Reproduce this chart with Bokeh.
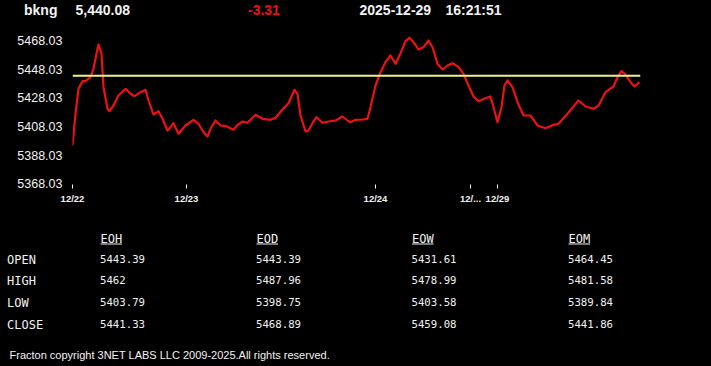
from bokeh.plotting import figure
from bokeh.layouts import column
from bokeh.models import Range1d, FixedTicker, Span
from bokeh.embed import file_html
from bokeh.resources import INLINE
from bokeh.core.properties import value

# ---------------- data ----------------
ticker = "bkng"
last_price = "5,440.08"
change = "-3.31"
date_str = "2025-12-29"
time_str = "16:21:51"

bar_index = [0, 3, 6, 10, 13, 18, 21, 25, 26, 29, 31, 35, 37, 41, 46, 53, 58, 62, 68, 73,
             76, 81, 86, 90, 95, 98, 101, 106, 113, 121, 126, 131, 135, 138, 143, 148, 154, 161, 165, 170,
             175, 183, 190, 198, 203, 210, 216, 222, 225, 228, 233, 236, 240, 244, 250, 256, 263, 270, 275, 278,
             283, 290, 295, 298, 303, 308, 313, 318, 323, 328, 333, 337, 341, 346, 351, 356, 360, 365, 370, 375,
             380, 386, 391, 396, 401, 406, 413, 418, 421, 425, 429, 432, 435, 440, 445, 451, 458, 465, 473, 480,
             486, 495, 506, 513, 521, 526, 533, 541, 545, 549, 553, 558, 562, 567]
price = [5394.72, 5416.81, 5434.23, 5439.53, 5439.53, 5442.32, 5448.17, 5462.11, 5465.10, 5458.62,
         5435.35, 5420.29, 5418.62, 5422.59, 5429.56, 5434.23, 5430.75, 5429.08, 5431.86, 5433.54,
         5426.08, 5416.32, 5418.62, 5413.33, 5405.17, 5407.47, 5410.26, 5402.87, 5408.66, 5412.63,
         5409.84, 5403.99, 5400.99, 5406.36, 5412.14, 5408.66, 5408.17, 5405.66, 5409.14, 5411.44,
         5410.54, 5416.11, 5413.33, 5412.63, 5414.02, 5419.81, 5424.20, 5433.54, 5430.75, 5415.63,
         5404.48, 5405.17, 5410.26, 5414.44, 5410.54, 5411.44, 5412.14, 5414.93, 5412.14, 5410.96,
         5412.63, 5412.84, 5413.33, 5421.41, 5436.53, 5445.80, 5452.77, 5457.44, 5451.65, 5459.04,
         5467.40, 5469.77, 5466.71, 5461.62, 5463.22, 5467.89, 5463.22, 5451.65, 5447.68, 5450.47,
         5452.07, 5449.28, 5444.69, 5436.53, 5428.87, 5425.59, 5427.68, 5428.87, 5421.41, 5410.96,
         5421.41, 5436.53, 5440.02, 5435.35, 5424.89, 5415.63, 5415.63, 5408.66, 5406.78, 5408.87,
         5409.84, 5416.81, 5426.08, 5421.90, 5420.29, 5422.59, 5431.86, 5435.83, 5442.32, 5446.50,
         5444.20, 5438.83, 5435.83, 5438.83]

x_tick_pos = [0, 114, 303, 398, 425]
x_tick_labels = ["12/22", "12/23", "12/24", "12/...", "12/29"]
y_ticks = [5368.03, 5388.03, 5408.03, 5428.03, 5448.03, 5468.03]
y_tick_labels = ["5368.03", "5388.03", "5408.03", "5428.03", "5448.03", "5468.03"]
ref_level = 5443.39

periods = ["EOH", "EOD", "EOW", "EOM"]
row_names = ["OPEN", "HIGH", "LOW", "CLOSE"]
eoh_vals = ["5443.39", "5462", "5403.79", "5441.33"]
eod_vals = ["5443.39", "5487.96", "5398.75", "5468.89"]
eow_vals = ["5431.61", "5478.99", "5403.58", "5459.08"]
eom_vals = ["5464.45", "5481.58", "5389.84", "5441.86"]
footer = "Fracton copyright 3NET LABS LLC 2009-2025.All rights reserved."

W = 711
BG = "#000000"
WHITE = "#f2f2f2"
RED = "#ee1111"


def blank(h, y0, y1):
    f = figure(width=W, height=h, output_backend="svg", toolbar_location=None,
               x_range=Range1d(0, W), y_range=Range1d(y1, y0),
               x_axis_location=None, y_axis_location=None, frame_align=False,
               min_border_left=0, min_border_right=0, min_border_top=0, min_border_bottom=0)
    f.background_fill_color = BG
    f.border_fill_color = BG
    f.outline_line_color = None
    f.xgrid.visible = False
    f.ygrid.visible = False
    return f


# ---------------- header ----------------
head = blank(28, 0, 28)
hx = [23.5, 75, 247.5, 359, 445]
htext = [ticker, last_price, change, date_str, time_str]
hcol = [WHITE, WHITE, RED, WHITE, WHITE]
head.text(x=hx, y=[9.5] * 5, text=htext, text_color=hcol,
          text_font=value("Liberation Sans"), text_font_size=value("14px"),
          text_font_style="bold", text_baseline="middle", text_align="left")

# ---------------- chart ----------------
chart = figure(width=W, height=184, output_backend="svg", toolbar_location=None,
               x_range=Range1d(0, 568), y_range=Range1d(5367.54, 5474.86), frame_align=False,
               min_border_left=72, min_border_right=71, min_border_top=2, min_border_bottom=28)
chart.background_fill_color = BG
chart.border_fill_color = BG
chart.outline_line_color = None
chart.xgrid.visible = False
chart.ygrid.visible = False

chart.line(bar_index, price, line_color=RED, line_width=2.2, line_join="round")
chart.add_layout(Span(location=ref_level, dimension="width",
                      line_color="#eef08a", line_width=2))

xa = chart.xaxis[0]
xa.ticker = FixedTicker(ticks=x_tick_pos)
xa.major_label_overrides = {t: l for t, l in zip(x_tick_pos, x_tick_labels)}
xa.axis_line_color = None
xa.minor_tick_line_color = None
xa.major_tick_line_color = WHITE
xa.major_tick_in = 0
xa.major_tick_out = 4
xa.major_label_standoff = 4
xa.major_label_text_color = WHITE
xa.major_label_text_font = "Liberation Sans"
xa.major_label_text_font_size = "9.5px"
xa.major_label_text_font_style = "bold"

ya = chart.yaxis[0]
ya.ticker = FixedTicker(ticks=y_ticks)
ya.major_label_overrides = {t: l for t, l in zip(y_ticks, y_tick_labels)}
ya.axis_line_color = None
ya.minor_tick_line_color = None
ya.major_tick_line_color = None
ya.major_tick_in = 0
ya.major_tick_out = 0
ya.major_label_standoff = 10
ya.major_label_text_color = WHITE
ya.major_label_text_font = "Liberation Sans"
ya.major_label_text_font_size = "12.5px"

# ---------------- table ----------------
table = blank(154, 212, 366)
col_x = [100, 256, 411.5, 568]
row_y = [259, 280, 302, 324]
MONO = "DejaVu Sans Mono"
table.text(x=col_x, y=[238.5] * 4, text=periods, text_color=WHITE,
           text_font=value(MONO), text_font_size=value("12px"),
           text_baseline="middle", text_align="left")
table.segment(x0=col_x, y0=[243.5] * 4, x1=[c + 21.5 for c in col_x], y1=[243.5] * 4,
              line_color=WHITE, line_width=1)
table.text(x=[6.5] * 4, y=row_y, text=row_names, text_color=WHITE,
           text_font=value(MONO), text_font_size=value("12px"),
           text_baseline="middle", text_align="left")
for cx, vals in zip(col_x, [eoh_vals, eod_vals, eow_vals, eom_vals]):
    table.text(x=[cx - 0.5] * 4, y=[r - 0.7 for r in row_y], text=vals, text_color=WHITE,
               text_font=value(MONO), text_font_size=value("10.7px"),
               text_baseline="middle", text_align="left")
table.text(x=[9], y=[354.5], text=[footer], text_color=WHITE,
           text_font=value("Liberation Sans"), text_font_size=value("11px"),
           text_baseline="middle", text_align="left")

layout = column(head, chart, table, spacing=0)

template = """{% block preamble %}<style>html, body {margin:0; padding:0; background:#000000; overflow:hidden;}</style>{% endblock %}
"""

open("out.html", "w").write(file_html(layout, INLINE, template=template))
